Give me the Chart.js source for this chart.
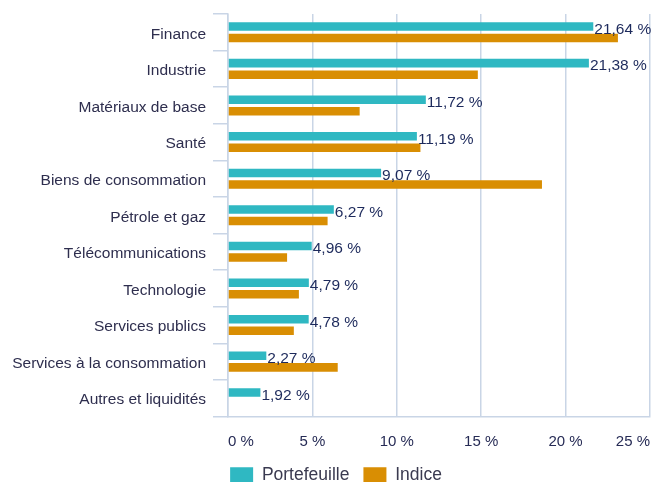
<!DOCTYPE html>
<html>
<head>
<meta charset="utf-8">
<script src="https://cdn.jsdelivr.net/npm/chart.js@4"></script>
<style>
  body { margin: 0; background: #fff; }
  #wrap { width: 652px; height: 482px; }
</style>
</head>
<body>
<div id="wrap"><canvas id="chart"></canvas></div>
<script>
const sectors = ['Finance', 'Industrie', 'Matériaux de base', 'Santé', 'Biens de consommation',
    'Pétrole et gaz', 'Télécommunications', 'Technologie', 'Services publics',
    'Services à la consommation', 'Autres et liquidités'];
const portefeuille = [21.64, 21.38, 11.72, 11.19, 9.07, 6.27, 4.96, 4.79, 4.78, 2.27, 1.92];
const indice = [23.1, 14.8, 7.8, 11.4, 18.6, 5.9, 3.5, 4.2, 3.9, 6.5, null];
const xTicks = [0, 5, 10, 15, 20, 25];

const gridColor = '#c9d5e6';
const fontFamily = '"Liberation Sans", Arial, sans-serif';

// value labels at the end of the Portefeuille bars
const valueLabels = {
    id: 'valueLabels',
    afterDatasetsDraw(chart) {
        const ctx = chart.ctx;
        const meta = chart.getDatasetMeta(0);
        ctx.save();
        ctx.font = '15.5px ' + fontFamily;
        ctx.fillStyle = '#1d2a5c';
        ctx.textAlign = 'left';
        ctx.textBaseline = 'middle';
        meta.data.forEach((bar, i) => {
            const txt = portefeuille[i].toFixed(2).replace('.', ',') + ' %';
            ctx.fillText(txt, bar.x + 1, bar.y + 3);
        });
        ctx.restore();
    }
};

// nudge the legend to where the original sits
const legendShift = {
    id: 'legendShift',
    afterLayout(chart) {
        chart.legend.left += 11;
        chart.legend.right += 11;
    }
};

new Chart(document.getElementById('chart'), {
    type: 'bar',
    data: {
        labels: sectors,
        datasets: [{
            label: 'Portefeuille',
            data: portefeuille,
            backgroundColor: '#2fb8c2',
            categoryPercentage: 0.63,
            barPercentage: 0.74
        }, {
            label: 'Indice',
            data: indice,
            backgroundColor: '#d98e03',
            categoryPercentage: 0.63,
            barPercentage: 0.74
        }]
    },
    options: {
        indexAxis: 'y',
        responsive: true,
        maintainAspectRatio: false,
        animation: false,
        layout: { padding: { top: 14, right: 2, left: 0, bottom: -12 } },
        plugins: {
            legend: {
                position: 'bottom',
                labels: {
                    boxWidth: 23,
                    boxHeight: 16,
                    padding: 14,
                    color: '#3a3a50',
                    font: { size: 17.5, family: fontFamily }
                }
            },
            tooltip: { enabled: false }
        },
        scales: {
            x: {
                min: 0,
                max: 25,
                afterBuildTicks: axis => { axis.ticks = xTicks.map(v => ({ value: v })); },
                afterFit: axis => {
                    axis.height = 36;
                    axis.paddingLeft = 0;
                    axis.paddingRight = 0;
                },
                ticks: {
                    align: 'inner',
                    padding: 16,
                    color: '#262b55',
                    font: { size: 15, family: fontFamily },
                    callback: v => v + ' %'
                },
                grid: { color: gridColor, lineWidth: 1.5, drawTicks: false },
                border: { color: gridColor, width: 1.5 }
            },
            y: {
                afterFit: axis => {
                    axis.width = 228;
                    axis.paddingTop = 0;
                    axis.paddingBottom = 0;
                },
                ticks: {
                    padding: 7,
                    labelOffset: 2,
                    color: '#2e2e4e',
                    font: { size: 15.5, family: fontFamily }
                },
                grid: {
                    offset: true,
                    drawOnChartArea: false,
                    tickLength: 15,
                    color: gridColor,
                    lineWidth: 1.5
                },
                border: { color: gridColor, width: 1.5 }
            }
        }
    },
    plugins: [valueLabels, legendShift]
});
</script>
</body>
</html>
